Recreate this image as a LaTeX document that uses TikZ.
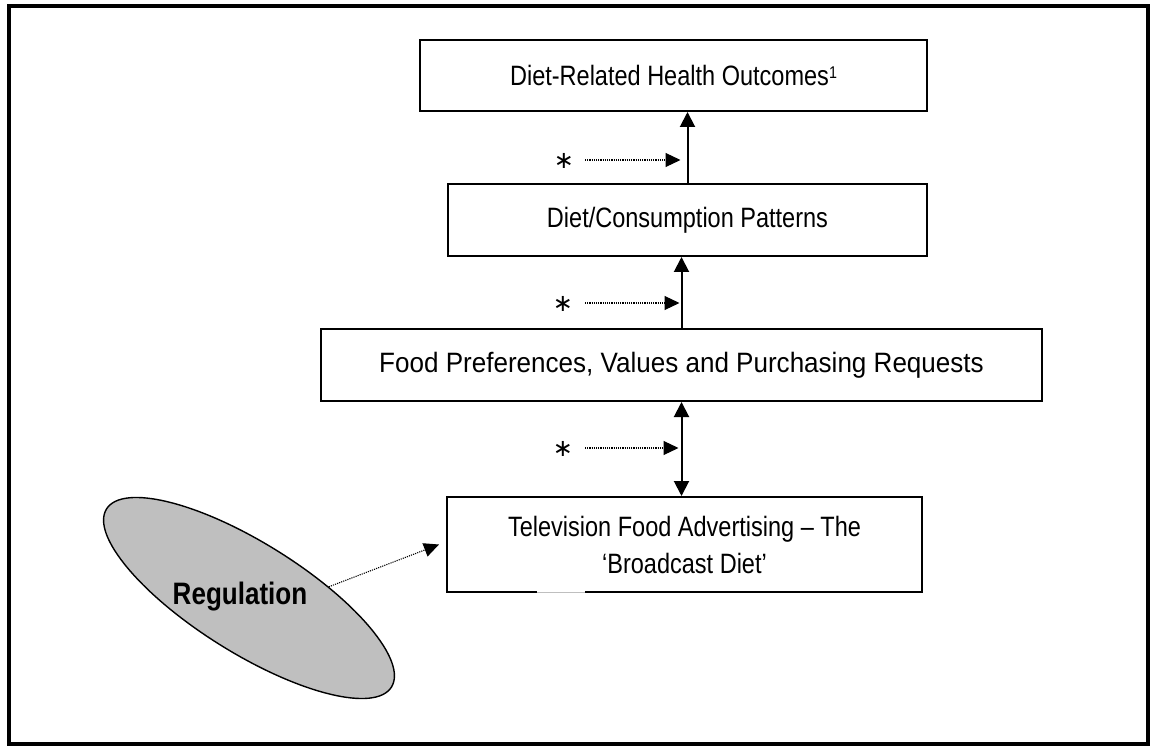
\documentclass[tikz,border=0pt]{standalone}
\usepackage{fontspec}
\setmainfont[FakeStretch=0.84]{Liberation Sans}
\newfontfamily\widefont[FakeStretch=0.93]{Liberation Sans}
\newfontfamily\starfont{DejaVu Sans}
\usetikzlibrary{arrows.meta,shapes.geometric,calc}
\begin{document}
\begin{tikzpicture}[x=1pt,y=-1pt,
  box/.style={draw,line width=2pt,inner sep=0pt,font=\fontsize{28}{40}\selectfont},
  arr/.style={line width=2pt,-{Triangle[length=15pt,width=15pt]}},
  darr/.style={line width=2pt,{Triangle[length=15pt,width=15pt]}-{Triangle[length=15pt,width=15pt]}},
  dotarr/.style={line width=1.1pt,dash pattern=on 1.1pt off 1.1pt,-{Triangle[length=15pt,width=14pt]}},
  star/.style={inner sep=0pt,font=\starfont\fontsize{24}{24}\selectfont}]
\useasboundingbox (0,0) rectangle (1152,746);
\draw[line width=4pt] (9,6) rectangle (1148,744);
% boxes
\node[box,minimum width=507pt,minimum height=71pt] (b1) at (673.5,75.5) {Diet-Related Health Outcomes\raisebox{7pt}{\fontsize{17}{17}\selectfont 1}};
\node[box,minimum width=479pt,minimum height=72pt] (b2) at (687.5,220) {Diet/Consumption Patterns};
\node[box,minimum width=721pt,minimum height=72pt] (b3) at (681.5,365) {\widefont Food Preferences, Values and Purchasing Requests};
\node[box,minimum width=475pt,minimum height=95pt,align=center] (tv) at (684.5,544.5) {Television Food Advertising -- The\\[-3pt]‘Broadcast Diet’};
% gap artefact on bottom edge of tv box
\fill[white] (537,590) rectangle (585,594);
\draw[gray!50,line width=0.6pt] (537,592) -- (585,592);
% vertical arrows
\draw[arr] (b2.north) -- (b2.north |- b1.south);
\draw[arr] (b3.north) -- (b3.north |- b2.south);
\draw[darr] (b3.south) -- (b3.south |- tv.north);
% asterisks and dotted arrows
\node[star] (s1) at (564,161) {∗};
\node[star] (s2) at (563,304) {∗};
\node[star] (s3) at (563,449) {∗};
\draw[dotarr] (585,160) -- ([xshift=-7pt]b2.north |- 0,160);
\draw[dotarr] (585,303) -- ([xshift=-2pt]b3.north |- 0,303);
\draw[dotarr] (585,448) -- ([xshift=-3pt]b3.south |- 0,448);
% regulation ellipse
\node[ellipse,draw,line width=1.4pt,fill=black!25,minimum width=336pt,minimum height=110pt,inner sep=0pt,rotate=-32] (reg) at (249,598) {};
\node[font=\bfseries\fontsize{31}{31}\selectfont,inner sep=0pt] (regt) at (240,597) {Regulation};
\draw[dotarr] (reg.40) -- ([xshift=-7pt]tv.west);
\end{tikzpicture}
\end{document}
